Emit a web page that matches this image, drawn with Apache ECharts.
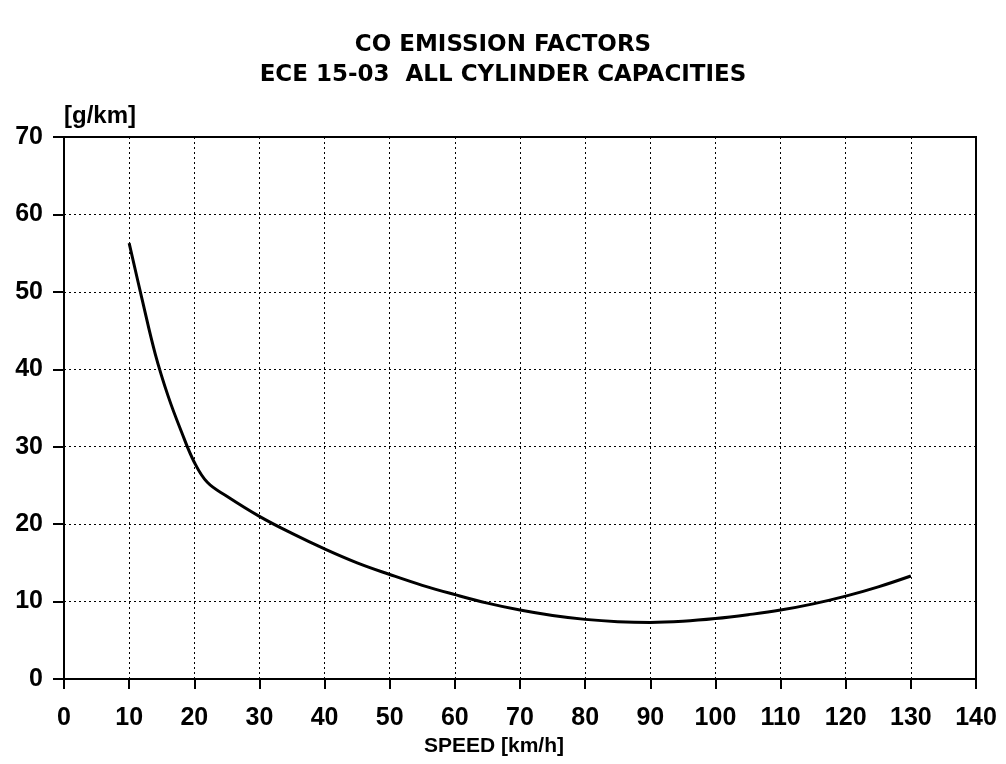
<!DOCTYPE html>
<html>
<head>
<meta charset="utf-8">
<script src="https://cdn.jsdelivr.net/npm/echarts@6/dist/echarts.min.js"></script>
<style>
  html, body { margin: 0; padding: 0; background: #fff; }
  #chart { width: 1006px; height: 764px; }
</style>
</head>
<body>
<div id="chart"></div>
<script>
const speed_values = [10, 12, 14, 16, 18, 20, 22, 25, 30, 35, 40, 45, 50, 55, 60, 65, 70, 75, 80, 85, 90, 95, 100, 105, 110, 115, 120, 125, 130];
const co_values = [56.3, 49, 42, 36.5, 32, 28, 25.4, 23.6, 21, 18.8, 16.8, 15, 13.5, 12.1, 10.9, 9.8, 8.9, 8.2, 7.7, 7.4, 7.3, 7.45, 7.8, 8.3, 8.9, 9.7, 10.7, 11.9, 13.3];
const title_lines = ['CO EMISSION FACTORS', 'ECE 15-03  ALL CYLINDER CAPACITIES'];

const font_family = 'Liberation Sans, Arial, sans-serif';
const title_font = 'DejaVu Sans, sans-serif';
const chartArea = document.getElementById('chart');
const chart = echarts.init(chartArea);

const line_data = speed_values.map(function (s, i) { return [s, co_values[i]]; });

const grid_line_style = {
  color: '#000',
  width: 1,
  type: [2, 3]
};

const chart_options = {
  backgroundColor: '#fff',
  animation: false,
  title: {
    text: title_lines.join('\n'),
    left: 'center',
    top: 25,
    textStyle: {
      fontFamily: title_font,
      fontWeight: 'bold',
      fontSize: 23,
      lineHeight: 30,
      color: '#000'
    }
  },
  grid: {
    left: 64,
    right: 30,
    top: 137,
    bottom: 85,
    show: true,
    borderColor: '#000',
    borderWidth: 2
  },
  xAxis: {
    type: 'value',
    min: 0,
    max: 140,
    interval: 10,
    name: 'SPEED [km/h]',
    nameLocation: 'middle',
    nameGap: 55,
    nameTextStyle: {
      fontFamily: font_family,
      fontWeight: 'bold',
      fontSize: 21,
      color: '#000',
      padding: [0, 52, 0, 0]
    },
    axisLine: { lineStyle: { color: '#000', width: 2 } },
    axisTick: { show: true, length: 10, lineStyle: { color: '#000', width: 2 } },
    axisLabel: {
      margin: 27,
      fontFamily: font_family,
      fontWeight: 'bold',
      fontSize: 25,
      color: '#000'
    },
    splitLine: { show: true, lineStyle: grid_line_style }
  },
  yAxis: {
    type: 'value',
    min: 0,
    max: 70,
    interval: 10,
    name: '[g/km]',
    nameLocation: 'end',
    nameGap: 9,
    nameTextStyle: {
      fontFamily: font_family,
      fontWeight: 'bold',
      fontSize: 24,
      color: '#000',
      align: 'left',
      verticalAlign: 'bottom'
    },
    axisLine: { show: true, lineStyle: { color: '#000', width: 2 } },
    axisTick: { show: true, length: 11, lineStyle: { color: '#000', width: 2 } },
    axisLabel: {
      margin: 21,
      fontFamily: font_family,
      fontWeight: 'bold',
      fontSize: 25,
      color: '#000'
    },
    splitLine: { show: true, lineStyle: grid_line_style }
  },
  series: [
    {
      name: 'CO',
      type: 'line',
      data: line_data,
      smooth: 0.4,
      showSymbol: false,
      lineStyle: { color: '#000', width: 3 }
    }
  ]
};
chart.setOption(chart_options);
</script>
</body>
</html>
